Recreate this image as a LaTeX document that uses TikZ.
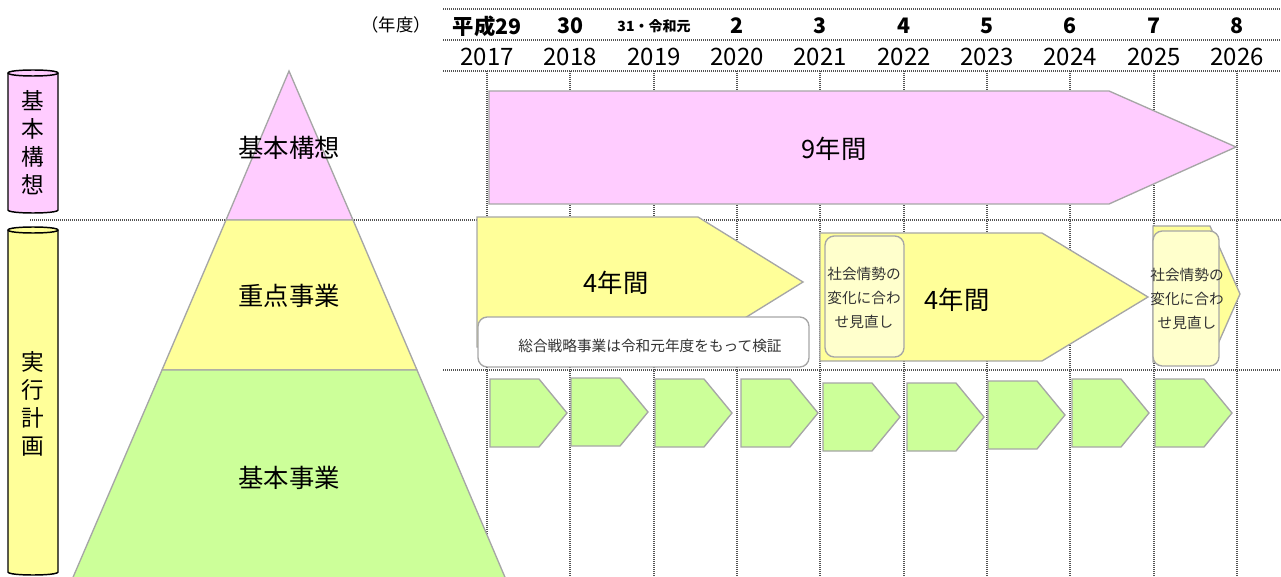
\documentclass[tikz,border=0pt]{standalone}
\usepackage{fontspec}
\setmainfont{Noto Sans CJK JP}
\definecolor{planpink}{HTML}{FFCCFF}
\definecolor{planyellow}{HTML}{FFFF99}
\definecolor{plangreen}{HTML}{CCFF99}
\definecolor{notecream}{HTML}{FFFFCC}
\definecolor{edgegray}{HTML}{A6A6A6}
\tikzset{
  grid line/.style={draw=black!68,line width=1.5pt,dash pattern=on 0.75pt off 0.75pt},
  plan shape/.style={draw=edgegray,line width=1pt},
  cylinder edge/.style={draw=black,line width=1.1pt},
  note box/.style={draw=edgegray,line width=1pt,rounded corners=7pt},
  big label/.style={font=\fontsize{19}{22}\selectfont,inner sep=0pt},
  column label/.style={font=\fontsize{17}{21}\selectfont,align=center,inner sep=0pt},
  note label/.style={font=\fontsize{11}{18}\selectfont,align=center,inner sep=0pt,text=black!80},
  era label/.style={font=\fontsize{16}{18}\selectfont\bfseries,inner sep=0pt},
  year label/.style={font=\fontsize{18}{20}\selectfont,inner sep=0pt}
}
\begin{document}
\begin{tikzpicture}[x=0.75pt,y=-0.75pt]
\useasboundingbox (0,0) rectangle (1281,577);
% Let us start with the dotted grid:
\foreach \y/\from in {9/443,40/443,71/443,220/30,370/443}
  \draw[grid line] (\from,\y) -- (1281,\y);
\foreach \x in {487,570,654,737,820,904,987,1070,1154,1237}
  \draw[grid line] (\x,71) -- (\x,577);

% header with the fiscal years
\node[font=\fontsize{13}{15}\selectfont,inner sep=0pt] (year unit) at (396,25) {（年度）};
\foreach \n/\x/\era/\yr in {1/487/平成29/2017,2/570/30/2018,
  3/654/{\fontsize{10.5}{12}\selectfont 31・令和元}/2019,4/737/2/2020,5/820/3/2021,
  6/904/4/2022,7/987/5/2023,8/1070/6/2024,9/1154/7/2025,10/1237/8/2026}
{
\node[era label] (era \n) at (\x,26) {\era};
\node[year label] (year \n) at (\x,57) {\yr};
}

% the two cylinders on the left
\filldraw[cylinder edge,fill=planpink] (8,73) -- (8,210) .. controls (8,214) and (58,214) .. (58,210)
  -- (58,73) .. controls (58,69) and (8,69) .. (8,73) -- cycle;
\draw[cylinder edge] (8,73) .. controls (8,77) and (58,77) .. (58,73);
\node[column label] (concept column) at (33,143) {基\\本\\構\\想};
\filldraw[cylinder edge,fill=planyellow] (8,230) -- (8,572) .. controls (8,576) and (58,576) .. (58,572)
  -- (58,230) .. controls (58,226) and (8,226) .. (8,230) -- cycle;
\draw[cylinder edge] (8,230) .. controls (8,234) and (58,234) .. (58,230);
\node[column label] (plan column) at (33,404) {実\\行\\計\\画};

% the pyramid
\filldraw[plan shape,fill=planpink] (289,71) -- (353,220) -- (226,220) -- cycle;
\filldraw[plan shape,fill=planyellow] (226,220) -- (353,220) -- (417,370) -- (162,370) -- cycle;
\filldraw[plan shape,fill=plangreen] (162,370) -- (417,370) -- (507,582) -- (71,582) -- cycle;
\node[big label] (concept label) at (289,148) {基本構想};
\node[big label] (focus label) at (289,296) {重点事業};
\node[big label] (basic label) at (289,478) {基本事業};

% basic concept, nine years
\filldraw[plan shape,fill=planpink] (489,91) -- (1109,91) -- (1236,147) -- (1109,204) -- (489,204) -- cycle;
\node[big label] (nine years) at (834,149) {9年間};

% focus projects, two terms of four years
\filldraw[plan shape,fill=planyellow] (477,217) -- (698,217) -- (803,282) -- (698,347) -- (477,347) -- cycle;
\node[big label] (first term) at (616,283) {4年間};
\filldraw[note box,fill=white] (478,317) rectangle (809,367);
\node[note label] (strategy note) at (650,346) {総合戦略事業は令和元年度をもって検証};

\filldraw[plan shape,fill=planyellow] (820,233) -- (1042,233) -- (1148,297) -- (1042,361) -- (820,361) -- cycle;
\node[big label] (second term) at (957,300) {4年間};
\filldraw[note box,fill=notecream] (825,236) rectangle (904,357);
\node[note label] (review note 1) at (864,298) {社会情勢の\\変化に合わ\\せ見直し};

\filldraw[plan shape,fill=planyellow] (1153,226) -- (1210,226) -- (1240,294) -- (1210,362) -- (1153,362) -- cycle;
\filldraw[note box,fill=notecream] (1153,231) rectangle (1219,366);
\node[note label] (review note 2) at (1187,299) {社会情勢の\\変化に合わ\\せ見直し};

% basic projects, one arrow per year
\foreach \lx/\ty in {490/379,571/378,655/379,741/379,823/383,907/383,988/381,1072/379,1155/379}
  \filldraw[plan shape,fill=plangreen] (\lx,\ty) -- ++(49,0) -- ++(28,34) -- ++(-28,34) -- ++(-49,0) -- cycle;
\end{tikzpicture}
\end{document}
